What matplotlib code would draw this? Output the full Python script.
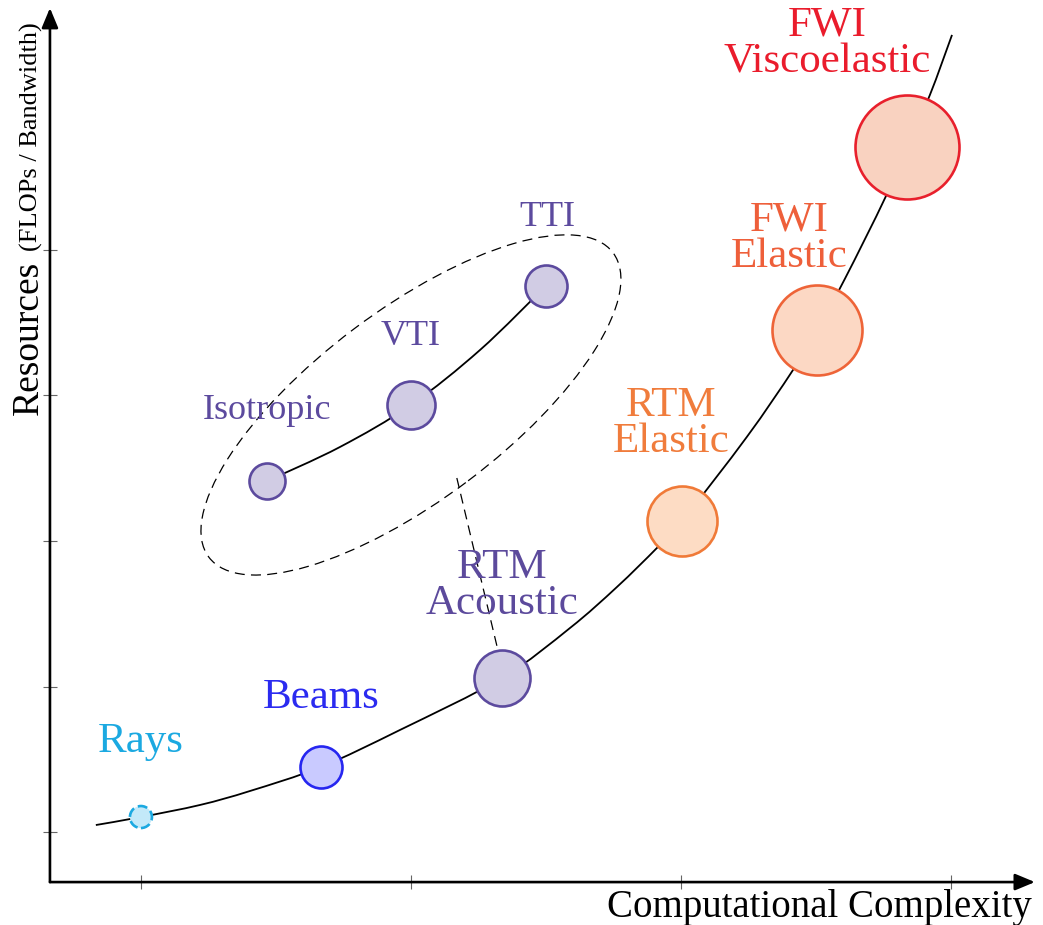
import numpy as np
import matplotlib
matplotlib.use("Agg")
import matplotlib.pyplot as plt
from matplotlib.path import Path
from matplotlib.patches import PathPatch, Ellipse
from matplotlib.transforms import ScaledTranslation

plt.rcParams['font.family'] = ['Liberation Serif', 'DejaVu Serif']

# methods on the main curve: (complexity, resources, bubble radius in px)
main_names = ['Rays', 'Beams', 'RTM\nAcoustic', 'RTM\nElastic', 'FWI\nElastic', 'FWI\nViscoelastic']
main_x = [1.0, 1.667, 2.337, 3.004, 3.504, 3.837]
main_y = [1.103, 1.447, 2.058, 3.137, 4.450, 5.708]
main_r = [11, 21, 28, 35, 45, 52]

# anisotropy variants inside the dashed ellipse
aniso_names = ['Isotropic', 'VTI', 'TTI']
aniso_x = [1.467, 2.0, 2.5]
aniso_y = [3.412, 3.935, 4.753]
aniso_r = [18, 24, 21]

# trend curve nodes
curve_x = [0.833, 1.0, 1.219, 1.404, 1.667, 1.959, 2.337, 2.589, 2.763, 2.911,
           3.004, 3.244, 3.415, 3.504, 3.607, 3.756, 3.837, 3.922, 4.004]
curve_y = [1.048, 1.103, 1.186, 1.282, 1.447, 1.701, 2.058, 2.402, 2.684, 2.952,
           3.137, 3.715, 4.175, 4.450, 4.801, 5.357, 5.708, 6.065, 6.478]
inner_x = [1.467, 1.737, 2.0, 2.256, 2.5]
inner_y = [3.412, 3.646, 3.935, 4.313, 4.753]

# label anchor points (centre of text block)
main_lx = [1.0, 1.667, 2.337, 2.963, 3.40, 3.541]
main_ly = [1.619, 1.921, 2.691, 3.804, 5.082, 6.416]
aniso_lx = [1.467, 2.0, 2.504]
aniso_ly = [3.900, 4.402, 5.220]

edge_cols = ['#1ba9e1', '#2626f0', '#5c4a9e', '#f07a38', '#ee6438', '#e8202c']
fill_cols = ['#c3e9f9', '#c9caff', '#d1cce4', '#fddcc4', '#fcd8c4', '#f9d2c0']
text_cols = ['#1ba9e1', '#2b2bf0', '#5c4a9c', '#f07c3c', '#ee5f3a', '#ea1c2c']
purple = '#5c4a9e'
purple_fill = '#d1cce4'


def smooth_path(xs, ys):
    # Catmull-Rom through the nodes, drawn as cubic bezier segments
    p = np.column_stack([xs, ys])
    p = np.vstack([p[0], p, p[-1]])
    verts = [p[1]]
    codes = [Path.MOVETO]
    for i in range(1, len(p) - 2):
        c1 = p[i] + (p[i + 1] - p[i - 1]) / 6
        c2 = p[i + 1] - (p[i + 2] - p[i]) / 6
        verts += [c1, c2, p[i + 1]]
        codes += [Path.CURVE4] * 3
    return Path(verts, codes)


fig = plt.figure(figsize=(10.43, 9.25), dpi=100)
ax = fig.add_axes([0, 0, 1, 1])
ax.set_xlim(0.478, 4.341)
ax.set_ylim(0.361, 6.718)

x0, y0 = 0.663, 0.656
# axes with arrows
arrow = dict(arrowstyle='-|>,head_length=0.6,head_width=0.25', lw=1.9, color='k',
             mutation_scale=20, shrinkA=0, shrinkB=0)
ax.annotate('', xy=(4.311, y0), xytext=(x0, y0), arrowprops=arrow)
ax.annotate('', xy=(x0, 6.663), xytext=(x0, y0), arrowprops=arrow)

for s in ['top', 'right']:
    ax.spines[s].set_visible(False)
ax.spines['bottom'].set_position(('data', y0))
ax.spines['left'].set_position(('data', x0))
ax.spines['bottom'].set_color('none')
ax.spines['left'].set_color('none')
ax.set_xticks([1, 2, 3, 4])
ax.set_yticks([1, 2, 3, 4, 5])
ax.tick_params(direction='inout', length=10, width=0.8, color='#666666',
               labelbottom=False, labelleft=False)

# curves
ax.add_patch(PathPatch(smooth_path(curve_x, curve_y), fc='none', ec='k', lw=1.3, zorder=2))
ax.add_patch(PathPatch(smooth_path(inner_x, inner_y), fc='none', ec='k', lw=1.3, zorder=2))

# dashed ellipse around anisotropy group (size in inches, centred on VTI)
ell_tr = fig.dpi_scale_trans + ScaledTranslation(aniso_x[1], aniso_y[1], ax.transData)
ax.add_patch(Ellipse((0, 0), 5.06, 1.90, angle=37, transform=ell_tr, fc='none',
                     ec='k', lw=0.9, ls=(0, (8, 5)), zorder=1))
# dashed link from ellipse to RTM Acoustic
ax.plot([2.170, 2.322], [3.433, 2.251], color='k', lw=0.9, ls=(0, (8, 5)), zorder=1)

# bubbles
for i in range(len(main_x)):
    s = (2 * main_r[i] * 0.72) ** 2
    ax.scatter([main_x[i]], [main_y[i]], s=s, c=fill_cols[i], edgecolors=edge_cols[i],
               linewidths=1.9, linestyles='--' if i == 0 else '-', zorder=3)
for i in range(len(aniso_x)):
    s = (2 * aniso_r[i] * 0.72) ** 2
    ax.scatter([aniso_x[i]], [aniso_y[i]], s=s, c=purple_fill, edgecolors=purple,
               linewidths=1.9, zorder=3)

# labels
for i, name in enumerate(main_names):
    ax.text(main_lx[i], main_ly[i], name, color=text_cols[i], fontsize=31,
            ha='center', va='center', linespacing=0.93, zorder=4)
for i, name in enumerate(aniso_names):
    ax.text(aniso_lx[i], aniso_ly[i], name, color=purple, fontsize=26,
            ha='center', va='center', zorder=4)

ax.text(4.30, 0.416, 'Computational Complexity', fontsize=28, ha='right', va='baseline')
ax.text(0.619, 3.866, 'Resources', fontsize=27, rotation=90, rotation_mode='anchor',
        ha='left', va='baseline')
ax.text(0.619, 4.99, '(FLOPs / Bandwidth)', fontsize=19, rotation=90, rotation_mode='anchor',
        ha='left', va='baseline')

fig.savefig('out.png', dpi=100)
